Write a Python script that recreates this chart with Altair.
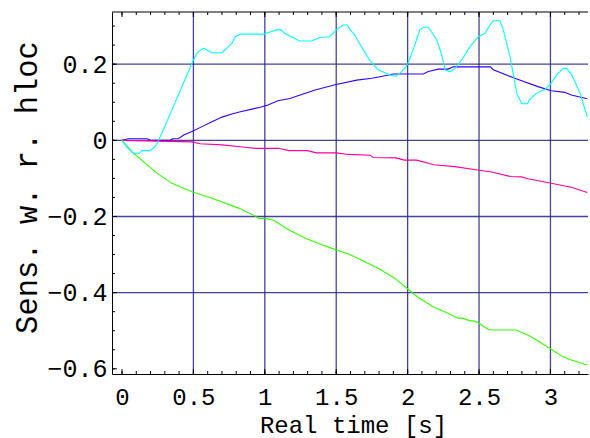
import altair as alt
import pandas as pd

# ---- data ----
cyan_t = [0, 0.04, 0.08, 0.12, 0.14, 0.198, 0.233, 0.257, 0.35, 0.42, 0.49, 0.525, 0.549, 0.572, 0.595,
          0.63, 0.70, 0.735, 0.77, 0.794, 0.829, 0.992, 1.027, 1.081, 1.116, 1.139, 1.186, 1.244, 1.326,
          1.384, 1.454, 1.478, 1.513, 1.548, 1.578, 1.594, 1.629, 1.676, 1.734, 1.793, 1.851, 1.898, 1.92,
          1.945, 1.98, 2.003, 2.05, 2.085, 2.11, 2.145, 2.204, 2.239, 2.262, 2.297, 2.332, 2.379, 2.437,
          2.495, 2.542, 2.577, 2.6, 2.647, 2.67, 2.717, 2.764, 2.799, 2.838, 2.857, 2.904, 2.962, 2.997,
          3.044, 3.09, 3.114, 3.149, 3.207, 3.258]
cyan_v = [0, -0.02, -0.034, -0.034, -0.027, -0.027, -0.016, 0, 0.08, 0.141, 0.2025, 0.229, 0.237, 0.242, 0.237,
          0.23, 0.23, 0.242, 0.255, 0.272, 0.279, 0.279, 0.283, 0.29, 0.29, 0.281, 0.272, 0.261, 0.261,
          0.27, 0.272, 0.281, 0.294, 0.303, 0.303, 0.292, 0.277, 0.246, 0.211, 0.185, 0.176, 0.169, 0.169,
          0.176, 0.189, 0.2025, 0.25, 0.29, 0.297, 0.297, 0.264, 0.224, 0.185, 0.180, 0.189, 0.211, 0.246,
          0.272, 0.281, 0.303, 0.314, 0.314, 0.29, 0.22, 0.124, 0.096, 0.096, 0.108, 0.124, 0.134, 0.146,
          0.172, 0.189, 0.189, 0.172, 0.124, 0.062]

blue_t = [0, 0.045, 0.178, 0.2, 0.338, 0.355, 0.397, 0.432, 0.49, 0.56, 0.63, 0.70, 0.77, 0.829, 0.91, 0.968,
          1.022, 1.092, 1.176, 1.232, 1.352, 1.492, 1.644, 1.749, 1.807, 1.9, 2.11, 2.145, 2.215, 2.283,
          2.32, 2.58, 2.6, 2.75, 2.913, 3.006, 3.1, 3.146, 3.258]
blue_v = [0, 0.004, 0.004, 0, 0, 0.004, 0.005, 0.014, 0.023, 0.036, 0.049, 0.061, 0.069, 0.075, 0.082, 0.087,
          0.093, 0.104, 0.110, 0.117, 0.132, 0.146, 0.158, 0.163, 0.167, 0.174, 0.174, 0.181, 0.187, 0.187,
          0.193, 0.193, 0.185, 0.163, 0.141, 0.130, 0.126, 0.119, 0.109]

pink_t = [0, 0.49, 0.548, 0.70, 0.863, 0.934, 1.097, 1.167, 1.30, 1.36, 1.50, 1.583, 1.74, 1.757, 1.92,
          1.976, 2.063, 2.185, 2.33, 2.49, 2.588, 2.72, 2.798, 2.843, 2.996, 3.146, 3.258]
pink_v = [0, -0.004, -0.009, -0.012, -0.018, -0.021, -0.021, -0.027, -0.027, -0.033, -0.033, -0.037, -0.039,
          -0.045, -0.046, -0.052, -0.052, -0.064, -0.069, -0.078, -0.083, -0.095, -0.096, -0.101, -0.112,
          -0.123, -0.137]

green_t = [0, 0.07, 0.163, 0.245, 0.35, 0.49, 0.63, 0.817, 0.934, 0.957, 1.004, 1.062, 1.167, 1.284, 1.377,
           1.494, 1.583, 1.676, 1.793, 1.91, 2.003, 2.073, 2.178, 2.283, 2.353, 2.388, 2.434, 2.46, 2.493,
           2.528, 2.575, 2.761, 2.866, 2.995, 3.076, 3.146, 3.258]
green_v = [0, -0.03, -0.06, -0.086, -0.113, -0.135, -0.152, -0.178, -0.199, -0.205, -0.205, -0.210, -0.235,
           -0.257, -0.271, -0.287, -0.298, -0.314, -0.336, -0.362, -0.391, -0.412, -0.437, -0.454, -0.467,
           -0.467, -0.474, -0.474, -0.478, -0.488, -0.498, -0.498, -0.516, -0.546, -0.566, -0.577, -0.590]

series_names = ["blue", "pink", "green", "cyan"]
series_colors = ["#3300ff", "#ff0099", "#33ff00", "#00ffff"]

x_labels = [0, 0.5, 1, 1.5, 2, 2.5, 3]
y_labels = [-0.6, -0.4, -0.2, 0, 0.2]
x_grid = [0.5, 1, 1.5, 2, 2.5, 3]
y_grid = [-0.4, -0.2, 0, 0.2]
x_minor = [round(0.1 * i, 1) for i in range(33)]
y_minor = [round(-0.6 + 0.05 * i, 2) for i in range(19)]
x_major = [0, 0.5, 1, 1.5, 2, 2.5, 3]
y_major = [-0.6, -0.4, -0.2, 0, 0.2]

# ---- build ----
W, H = 476, 362
FONT = "Liberation Mono"
xs = alt.Scale(domain=[-0.070, 3.263], nice=False, zero=False)
ys = alt.Scale(domain=[-0.6136, 0.337], nice=False, zero=False)

xaxis = alt.Axis(values=x_labels, format="~g", grid=False, ticks=False, tickSize=0,
                 labelFont=FONT, labelFontSize=24, labelColor="black", labelBaseline="alphabetic",
                 labelPadding=30, labelFlush=False, labelOverlap=False,
                 domain=True, domainColor="black", domainWidth=1,
                 title="Real time [s]", titleFont=FONT, titleFontSize=24, titleFontWeight="normal",
                 titleColor="black", titleAnchor="start", titleAlign="center", titleBaseline="alphabetic",
                 titleX=241, titleY=58)
yaxis = alt.Axis(values=y_labels, format="~g", grid=False, ticks=False, tickSize=0,
                 labelFont=FONT, labelFontSize=25, labelColor="black", labelBaseline="middle",
                 labelPadding=5, labelFlush=False, labelOverlap=False,
                 domain=True, domainColor="black", domainWidth=1,
                 title="Sens. w. r. hloc", titleFont=FONT, titleFontSize=30.5, titleFontWeight="normal",
                 titleColor="black", titleAngle=270, titleAlign="center", titleBaseline="alphabetic",
                 titleX=-76, titleY=175)

frames = []
for name, t, v in [("blue", blue_t, blue_v), ("pink", pink_t, pink_v),
                   ("green", green_t, green_v), ("cyan", cyan_t, cyan_v)]:
    frames.append(pd.DataFrame({"t": t, "v": v, "s": name, "o": range(len(t))}))
df = pd.concat(frames, ignore_index=True)

GRID = "#23238f"
gx = alt.Chart(pd.DataFrame({"t": x_grid})).mark_rule(color=GRID, strokeWidth=1.3, opacity=0.85).encode(
    x=alt.X("t:Q", scale=xs, axis=xaxis))
gy = alt.Chart(pd.DataFrame({"v": y_grid})).mark_rule(color=GRID, strokeWidth=1.3, opacity=0.85).encode(
    y=alt.Y("v:Q", scale=ys, axis=yaxis))

lines = alt.Chart(df).mark_line(strokeWidth=1.1, interpolate="linear").encode(
    x=alt.X("t:Q", scale=xs, axis=xaxis),
    y=alt.Y("v:Q", scale=ys, axis=yaxis),
    color=alt.Color("s:N", scale=alt.Scale(domain=series_names, range=series_colors), legend=None),
    order="o:Q",
)

def xticks(vals, length):
    d = pd.DataFrame({"t": vals})
    bottom = alt.Chart(d).mark_rule(color="black", strokeWidth=1).encode(
        x=alt.X("t:Q", scale=xs, axis=xaxis), y=alt.value(H), y2=alt.value(H - length))
    top = alt.Chart(d).mark_rule(color="black", strokeWidth=1).encode(
        x=alt.X("t:Q", scale=xs, axis=xaxis), y=alt.value(0), y2=alt.value(length))
    return [bottom, top]

def yticks(vals, length):
    d = pd.DataFrame({"v": vals})
    return [alt.Chart(d).mark_rule(color="black", strokeWidth=1).encode(
        y=alt.Y("v:Q", scale=ys, axis=yaxis), x=alt.value(0), x2=alt.value(length))]

top_frame = alt.Chart(pd.DataFrame({"a": [0]})).mark_rule(color="black", strokeWidth=1).encode(
    x=alt.value(0), x2=alt.value(W), y=alt.value(0))

layers = [gx, gy, lines] + xticks(x_minor, 3) + xticks(x_major, 5) + yticks(y_minor, 3) + yticks(y_major, 5) + [top_frame]

chart = alt.layer(*layers).properties(
    width=W, height=H,
    padding={"left": 112, "top": 12, "right": 2, "bottom": 64},
    autosize=alt.AutoSizeParams(type="none"),
    background="white",
).configure_view(stroke=None)

chart.save("out.html", embed_options={"renderer": "svg", "actions": False})
